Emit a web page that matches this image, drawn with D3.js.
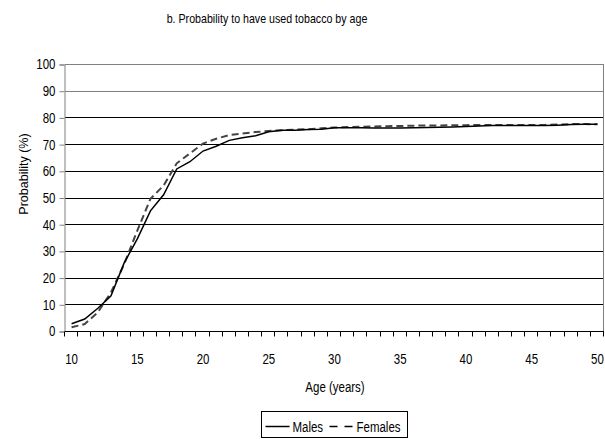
<!DOCTYPE html>
<html>
<head>
<meta charset="utf-8">
<script src="https://cdn.jsdelivr.net/npm/d3@7"></script>
<style>
  body { margin: 0; background: #fff; }
  text { font-family: "Liberation Sans", Arial, sans-serif; fill: #000; }
</style>
</head>
<body>
<svg id="chart" width="605" height="439"></svg>
<script>
// data
const ages = d3.range(10, 51);
const males = [2.7, 4.5, 8.5, 13.2, 25.5, 34.5, 45, 51, 60.7, 63.4,
  67.4, 69.2, 71.4, 72.4, 73.1, 74.6, 75.2, 75.2, 75.5, 75.6,
  76.1, 76.1, 76.1, 76.0, 76.0, 76.0, 76.1, 76.2, 76.3, 76.4,
  76.6, 76.8, 77.0, 77.0, 77.0, 77.0, 77.0, 77.1, 77.3, 77.4, 77.4];
const females = [1.4, 2.6, 7.0, 14.5, 25.0, 37.6, 49.5, 54.5, 62.8, 66.5,
  70.2, 72.0, 73.4, 74.0, 74.5, 74.9, 75.2, 75.4, 75.6, 75.9,
  76.2, 76.4, 76.5, 76.6, 76.7, 76.8, 76.9, 77.0, 77.0, 77.1,
  77.1, 77.2, 77.2, 77.2, 77.2, 77.2, 77.2, 77.3, 77.5, 77.5, 77.4];
const yTicks = d3.range(0, 101, 10);
const xLabels = [10, 15, 20, 25, 30, 35, 40, 45, 50];

const svg = d3.select('#chart');
const m = {left: 65, right: 604, top: 64, bottom: 331};
const k = 0.82; // squeeze, the original used a narrow face
const fs = 14;

const x = d3.scaleBand().domain(ages).range([m.left, m.right]);
const y = d3.scaleLinear().domain([0, 100]).range([m.bottom, m.top]);

// narrow text at (tx, ty)
function narrowText(parent, tx, ty, str, anchor, size) {
  return parent.append('text')
    .attr('transform', `translate(${tx},${ty}) scale(${k},1)`)
    .attr('text-anchor', anchor || 'start')
    .attr('font-size', size || fs)
    .text(str);
}

// gridlines
svg.append('g')
  .selectAll('line')
  .data(yTicks.filter(d => d > 0))
  .join('line')
  .attr('x1', m.left).attr('x2', m.right)
  .attr('y1', d => Math.round(y(d)) + 0.5).attr('y2', d => Math.round(y(d)) + 0.5)
  .attr('stroke', d => d >= 90 ? '#808080' : '#000')
  .attr('stroke-width', 1);

// right border
svg.append('line')
  .attr('x1', m.right - 0.5).attr('x2', m.right - 0.5)
  .attr('y1', m.top).attr('y2', m.bottom)
  .attr('stroke', '#808080');

// y axis
const yAxis = svg.append('g')
  .attr('transform', `translate(${m.left - 0.5},0.5)`)
  .call(d3.axisLeft(y).tickValues(yTicks).tickSize(5).tickPadding(3));
yAxis.attr('font-family', null);
yAxis.select('.domain').attr('stroke', '#808080');
yAxis.selectAll('.tick line').attr('stroke', '#808080');
yAxis.selectAll('.tick text')
  .attr('font-size', fs)
  .attr('x', -9 / k)
  .attr('transform', `scale(${k},1)`);

// x axis, ticks between categories
const xAxis = svg.append('g')
  .attr('transform', `translate(0,${Math.round(m.bottom) + 0.5})`);
xAxis.append('line')
  .attr('x1', m.left).attr('x2', m.right)
  .attr('stroke', '#000');
xAxis.selectAll('line.tk')
  .data(ages.concat([51]))
  .join('line')
  .attr('class', 'tk')
  .attr('x1', d => Math.round(d === 51 ? m.right : x(d)) - 0.5)
  .attr('x2', d => Math.round(d === 51 ? m.right : x(d)) - 0.5)
  .attr('y1', 0).attr('y2', 5)
  .attr('stroke', '#000');
xLabels.forEach(d => narrowText(xAxis, x(d) + x.bandwidth() / 2, 32.5, d, 'middle'));

// lines
const line = d3.line()
  .x((d, i) => x(ages[i]) + x.bandwidth() / 2)
  .y(d => y(d));

svg.append('path')
  .datum(females)
  .attr('d', line)
  .attr('fill', 'none')
  .attr('stroke', '#444')
  .attr('stroke-width', 2)
  .attr('stroke-dasharray', '7,4');

svg.append('path')
  .datum(males)
  .attr('d', line)
  .attr('fill', 'none')
  .attr('stroke', '#000')
  .attr('stroke-width', 1.5);

// titles
narrowText(svg, 267, 22.5, 'b. Probability to have used tobacco by age', 'middle', 13);
narrowText(svg, 335, 391.5, 'Age (years)', 'middle');

svg.append('text')
  .attr('transform', 'translate(28,174) rotate(-90)')
  .attr('text-anchor', 'middle')
  .attr('font-size', 12.5)
  .text('Probability (%)');

// legend
const lg = svg.append('g').attr('transform', 'translate(261.5,411.5)');
lg.append('rect')
  .attr('width', 146).attr('height', 26)
  .attr('fill', '#fff').attr('stroke', '#000');
lg.append('line')
  .attr('x1', 4).attr('x2', 28).attr('y1', 15).attr('y2', 15)
  .attr('stroke', '#000').attr('stroke-width', 1.5);
narrowText(lg, 31, 20.5, 'Males');
lg.append('line')
  .attr('x1', 68).attr('x2', 91).attr('y1', 15).attr('y2', 15)
  .attr('stroke', '#000').attr('stroke-width', 1.5)
  .attr('stroke-dasharray', '8,7');
narrowText(lg, 95, 20.5, 'Females');
</script>
</body>
</html>
